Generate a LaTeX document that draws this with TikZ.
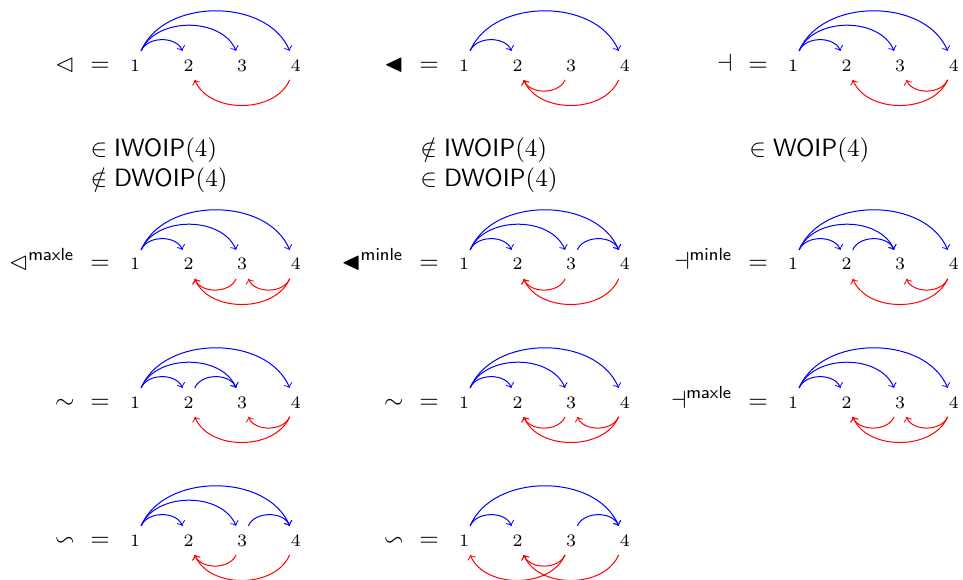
\documentclass[tikz,border=0pt]{standalone}
\usepackage{amssymb}
\tikzset{
  dig/.style={font=\scriptsize},
  barc/.style={->, blue, bend left=67},
  rarc/.style={->, red, bend left=67},
  rel/.style={anchor=base east, inner sep=0pt},
  eqs/.style={anchor=base, inner sep=0pt},
  memb/.style={anchor=base west, inner sep=0pt},
}
% #1 prefix, #2 x of node 1, #3 baseline y, #4 label, #5 blue edges, #6 red edges
\newcommand\Pnl[6]{%
  \node[rel] (#1r) at (#2-60,#3) {$#4$};
  \node[eqs] (#1e) at (#2-35,#3) {$=$};
  \foreach \i in {1,...,4} \node[dig, anchor=base] (#1\i) at ({#2+(\i-1)*53.6},#3) {$\i$};
  \foreach \s/\t in {#5} \draw[barc] (#1\s) to (#1\t);
  \foreach \s/\t in {#6} \draw[rarc] (#1\s) to (#1\t);
}
\begin{document}
\begin{tikzpicture}[x=0.4pt,y=-0.4pt]
\useasboundingbox (0,0) rectangle (963,580);
% row 1
\Pnl{a}{135}{71}{\vartriangleleft}{1/2,1/3,1/4}{4/2}
\Pnl{b}{464}{71}{\blacktriangleleft}{1/2,1/4}{3/2,4/2}
\Pnl{c}{793}{71}{\dashv}{1/2,1/3,1/4}{4/3,4/2}
\node[memb] (ta1) at (90,157) {$\in \mathsf{IWOIP}(4)$};
\node[memb] (ta2) at (90,187) {$\notin \mathsf{DWOIP}(4)$};
\node[memb] (tb1) at (420,157) {$\notin \mathsf{IWOIP}(4)$};
\node[memb] (tb2) at (420,187) {$\in \mathsf{DWOIP}(4)$};
\node[memb] (tc1) at (749,157) {$\in \mathsf{WOIP}(4)$};
% row 2
\Pnl{d}{135}{270}{\vartriangleleft^{\mathsf{maxle}}}{1/2,1/3,1/4}{3/2,4/3,4/2}
\Pnl{e}{464}{270}{\blacktriangleleft^{\mathsf{minle}}}{1/2,1/3,1/4,3/4}{3/2,4/2}
\Pnl{f}{793}{270}{\dashv^{\mathsf{minle}}}{1/2,1/3,1/4,2/3}{4/3,4/2}
% row 3
\Pnl{g}{135}{408}{\sim}{1/2,2/3,1/3,1/4}{4/3,4/2}
\Pnl{h}{464}{408}{\sim}{1/2,1/3,1/4}{3/2,4/3,4/2}
\Pnl{i}{793}{408}{\dashv^{\mathsf{maxle}}}{1/2,1/3,1/4}{3/2,4/3,4/2}
% row 4
\Pnl{j}{135}{546}{\backsim}{1/2,1/3,1/4,3/4}{3/2,4/2}
\Pnl{k}{464}{546}{\backsim}{1/2,1/4,3/4}{3/2,3/1,4/2}
\end{tikzpicture}
\end{document}
